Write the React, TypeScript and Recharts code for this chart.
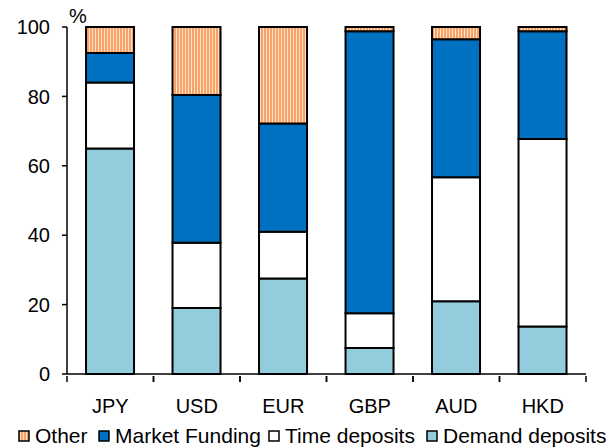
import { Bar, BarChart, XAxis, YAxis } from 'recharts';

const categories = ['JPY', 'USD', 'EUR', 'GBP', 'AUD', 'HKD'];
const demandDeposits = [65, 19, 27.5, 7.5, 21, 13.7];
const timeDeposits = [19, 18.8, 13.5, 10, 35.7, 54];
const marketFunding = [8.5, 42.6, 31.2, 81.3, 39.8, 31.1];
const other = [7.5, 19.6, 27.8, 1.2, 3.5, 1.2];
const yTicks = [0, 20, 40, 60, 80, 100];

const data = categories.map((name, i) => ({
  name,
  demand: demandDeposits[i],
  time: timeDeposits[i],
  market: marketFunding[i],
  other: other[i]
}));

const FONT = '"Liberation Sans", Arial, sans-serif';
const W = 615;
const H = 448;
const margin = { top: 27, right: 29, left: 0, bottom: 44 };
const yAxisWidth = 67;

// legend entries, left edge of each swatch
const legendItems = [
  { label: 'Other', fill: 'url(#otherStripes)', left: 18 },
  { label: 'Market Funding', fill: '#0070C0', left: 98 },
  { label: 'Time deposits', fill: '#FFFFFF', left: 268 },
  { label: 'Demand deposits', fill: '#93CDDD', left: 426 }
];

function CategoryTick(props: any) {
  const { x, y, payload } = props;
  const half = payload?.offset || (W - margin.right - yAxisWidth) / categories.length / 2;
  return (
    <g>
      <line x1={x - half} y1={y - 8} x2={x - half} y2={y - 2} stroke="#000" strokeWidth={1.5} />
      <line x1={x + half} y1={y - 8} x2={x + half} y2={y - 2} stroke="#000" strokeWidth={1.5} />
      <text x={x} y={y + 15} textAnchor="middle" dy="0.71em" fontSize={20} fontFamily={FONT} fill="#000">
        {payload.value}
      </text>
    </g>
  );
}

export default function App() {
  return (
    <div style={{ position: 'relative', width: W, height: H, fontFamily: FONT, background: '#fff' }}>
      <style>{`body{margin:0}`}</style>
      <svg width={0} height={0} style={{ position: 'absolute' }}>
        <defs>
          <pattern id="otherStripes" width={3} height={4} patternUnits="userSpaceOnUse">
            <rect width={3} height={4} fill="#FDE0C8" />
            <rect width={2} height={4} fill="#F9A268" />
          </pattern>
        </defs>
      </svg>
      <BarChart width={W} height={H} data={data} margin={margin} barCategoryGap="22%">
        <defs>
          <pattern id="otherStripesChart" width={3} height={4} patternUnits="userSpaceOnUse">
            <rect width={3} height={4} fill="#FDE0C8" />
            <rect width={2} height={4} fill="#F9A268" />
          </pattern>
        </defs>
        <XAxis
          dataKey="name"
          height={30}
          tickLine={false}
          axisLine={{ stroke: '#000', strokeWidth: 1.5 }}
          tick={<CategoryTick />}
          tickSize={8}
          interval={0}
        />
        <YAxis
          width={yAxisWidth}
          domain={[0, 100]}
          ticks={yTicks}
          interval={0}
          tickSize={5}
          tickMargin={12}
          axisLine={{ stroke: '#000', strokeWidth: 1.5 }}
          tickLine={{ stroke: '#000', strokeWidth: 1.5 }}
          tick={{ fill: '#000', fontSize: 20, fontFamily: FONT }}
        />
        <Bar dataKey="demand" stackId="a" fill="#93CDDD" stroke="#000" strokeWidth={2} isAnimationActive={false} />
        <Bar dataKey="time" stackId="a" fill="#FFFFFF" stroke="#000" strokeWidth={2} isAnimationActive={false} />
        <Bar dataKey="market" stackId="a" fill="#0070C0" stroke="#000" strokeWidth={2} isAnimationActive={false} />
        <Bar dataKey="other" stackId="a" fill="url(#otherStripesChart)" stroke="#000" strokeWidth={2} isAnimationActive={false} />
      </BarChart>
      <div style={{ position: 'absolute', left: 69, top: 6, fontSize: 20, lineHeight: '20px' }}>%</div>
      {legendItems.map(item => (
        <div
          key={item.label}
          style={{
            position: 'absolute',
            left: item.left,
            top: 425,
            display: 'flex',
            alignItems: 'center',
            fontSize: 21,
            lineHeight: '21px',
            whiteSpace: 'nowrap'
          }}
        >
          <svg width={12} height={12} style={{ marginRight: 5 }}>
            <rect x={1} y={1} width={10} height={10} fill={item.fill} stroke="#000" strokeWidth={1.5} />
          </svg>
          <span>{item.label}</span>
        </div>
      ))}
    </div>
  );
}
